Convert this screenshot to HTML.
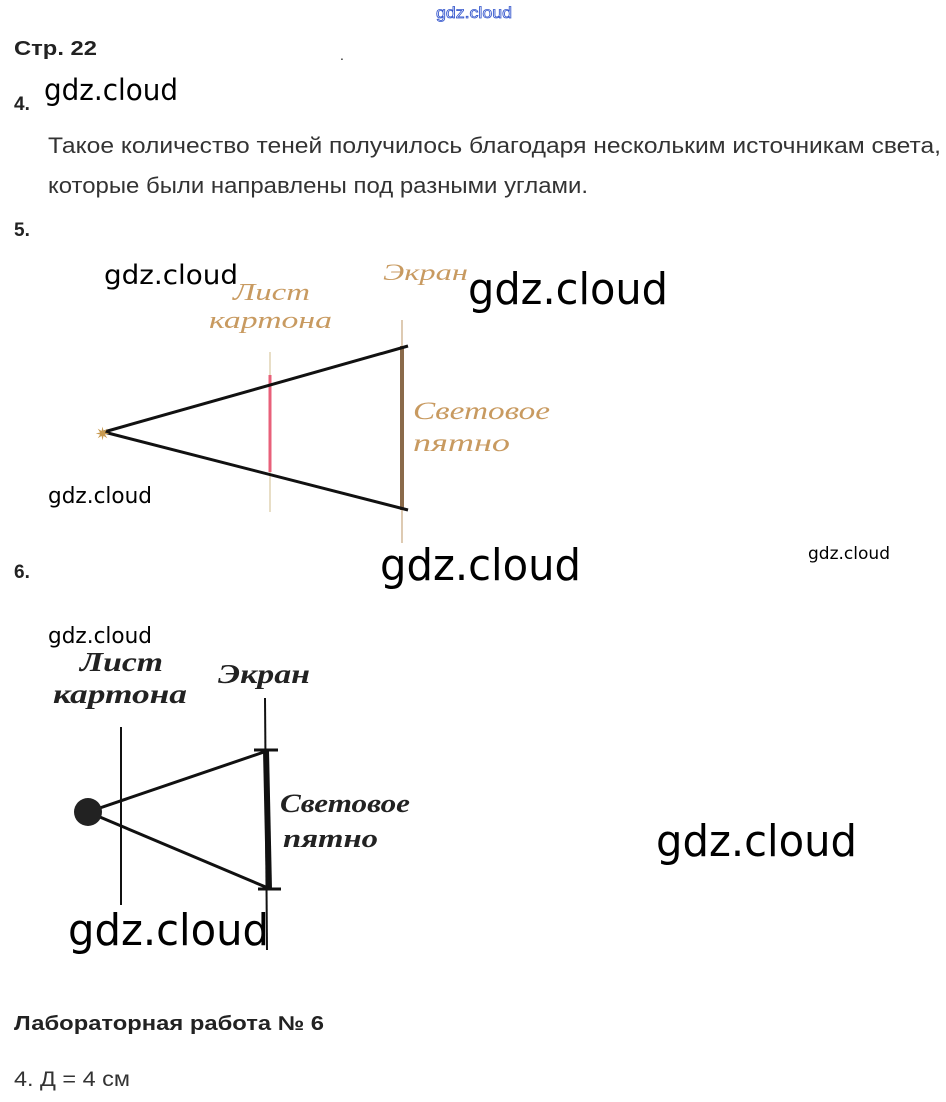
<!DOCTYPE html>
<html><head><meta charset="utf-8"><style>
html,body{margin:0;padding:0;background:#fff;width:946px;height:1102px;overflow:hidden}
svg{display:block}
.s{font-family:"Liberation Sans",sans-serif}
.w{font-family:"DejaVu Sans","Liberation Sans",sans-serif;fill:#000}
.i{font-family:"Liberation Serif",serif;font-style:italic}
</style></head><body>
<svg width="946" height="1102" viewBox="0 0 946 1102" xmlns="http://www.w3.org/2000/svg">
<text x="436" y="18" class="s" font-size="16" fill="#fff" stroke="#3355cc" stroke-width="0.8" textLength="76" lengthAdjust="spacingAndGlyphs">gdz.cloud</text>
<text x="14" y="55" class="s" font-size="20" font-weight="bold" fill="#222" textLength="83" lengthAdjust="spacingAndGlyphs">Стр. 22</text>
<text x="340" y="60" class="s" font-size="14" fill="#222">.</text>
<text x="14" y="110" class="s" font-size="19" font-weight="bold" fill="#222">4.</text>
<text x="44" y="100" class="w" font-size="29" textLength="134" lengthAdjust="spacingAndGlyphs">gdz.cloud</text>
<text x="48" y="153" class="s" font-size="22" fill="#333" textLength="893" lengthAdjust="spacingAndGlyphs">Такое количество теней получилось благодаря нескольким источникам света,</text>
<text x="48" y="193" class="s" font-size="22" fill="#333" textLength="540" lengthAdjust="spacingAndGlyphs">которые были направлены под разными углами.</text>
<text x="14" y="236" class="s" font-size="19" font-weight="bold" fill="#222">5.</text>

<!-- diagram 5 -->
<line x1="270" y1="352" x2="270" y2="512" stroke="#d8c8a0" stroke-width="1.2"/>
<line x1="270" y1="375" x2="270" y2="472" stroke="#e8607a" stroke-width="3"/>
<line x1="402" y1="320" x2="402" y2="543" stroke="#c8a880" stroke-width="1.2"/>
<line x1="402" y1="346" x2="402" y2="510" stroke="#8a6a4a" stroke-width="4"/>
<line x1="104" y1="432" x2="408" y2="346" stroke="#111" stroke-width="3"/>
<line x1="104" y1="432" x2="408" y2="510" stroke="#111" stroke-width="3"/>
<text x="95" y="440" font-size="18" fill="#c89a50">✷</text>
<text x="233" y="300" class="i" font-size="24" fill="#c89a60" textLength="77" lengthAdjust="spacingAndGlyphs">Лист</text>
<text x="209" y="328" class="i" font-size="24" fill="#c89a60" textLength="123" lengthAdjust="spacingAndGlyphs">картона</text>
<text x="383" y="280" class="i" font-size="23" fill="#c89a60" textLength="85" lengthAdjust="spacingAndGlyphs">Экран</text>
<text x="413" y="419" class="i" font-size="25" fill="#c89a60" textLength="137" lengthAdjust="spacingAndGlyphs">Световое</text>
<text x="413" y="451" class="i" font-size="25" fill="#c89a60" textLength="97" lengthAdjust="spacingAndGlyphs">пятно</text>
<text x="104" y="284" class="w" font-size="27" textLength="134" lengthAdjust="spacingAndGlyphs">gdz.cloud</text>
<text x="468" y="304" class="w" font-size="44" textLength="200" lengthAdjust="spacingAndGlyphs">gdz.cloud</text>
<text x="48" y="503" class="w" font-size="22" textLength="104" lengthAdjust="spacingAndGlyphs">gdz.cloud</text>

<text x="14" y="578" class="s" font-size="19" font-weight="bold" fill="#222">6.</text>
<text x="380" y="580" class="w" font-size="44" textLength="201" lengthAdjust="spacingAndGlyphs">gdz.cloud</text>
<text x="808" y="559" class="w" font-size="17" textLength="82" lengthAdjust="spacingAndGlyphs">gdz.cloud</text>
<text x="48" y="643" class="w" font-size="22" textLength="104" lengthAdjust="spacingAndGlyphs">gdz.cloud</text>

<!-- diagram 6 -->
<line x1="121" y1="727" x2="121" y2="905" stroke="#111" stroke-width="2"/>
<line x1="265" y1="698" x2="267" y2="950" stroke="#111" stroke-width="2"/>
<line x1="266" y1="750" x2="269" y2="889" stroke="#111" stroke-width="6"/>
<line x1="254" y1="750" x2="278" y2="750" stroke="#111" stroke-width="3"/>
<line x1="258" y1="889" x2="281" y2="889" stroke="#111" stroke-width="3"/>
<line x1="88" y1="812" x2="264" y2="752" stroke="#111" stroke-width="3"/>
<line x1="88" y1="812" x2="268" y2="888" stroke="#111" stroke-width="3"/>
<circle cx="88" cy="812" r="14" fill="#222"/>
<text x="80" y="671" class="i" font-size="27" font-weight="bold" fill="#222" textLength="83" lengthAdjust="spacingAndGlyphs">Лист</text>
<text x="53" y="703" class="i" font-size="27" font-weight="bold" fill="#222" textLength="134" lengthAdjust="spacingAndGlyphs">картона</text>
<text x="218" y="683" class="i" font-size="27" font-weight="bold" fill="#222" textLength="92" lengthAdjust="spacingAndGlyphs">Экран</text>
<text x="280" y="812" class="i" font-size="26" font-weight="bold" fill="#222" textLength="130" lengthAdjust="spacingAndGlyphs">Световое</text>
<text x="283" y="847" class="i" font-size="26" font-weight="bold" fill="#222" textLength="95" lengthAdjust="spacingAndGlyphs">пятно</text>
<text x="656" y="856" class="w" font-size="44" textLength="201" lengthAdjust="spacingAndGlyphs">gdz.cloud</text>
<text x="68" y="945" class="w" font-size="44" textLength="201" lengthAdjust="spacingAndGlyphs">gdz.cloud</text>

<text x="14" y="1030" class="s" font-size="20" font-weight="bold" fill="#222" textLength="310" lengthAdjust="spacingAndGlyphs">Лабораторная работа № 6</text>
<text x="14" y="1086" class="s" font-size="21" fill="#333" textLength="116" lengthAdjust="spacingAndGlyphs">4. Д = 4 см</text>
</svg>
</body></html>
